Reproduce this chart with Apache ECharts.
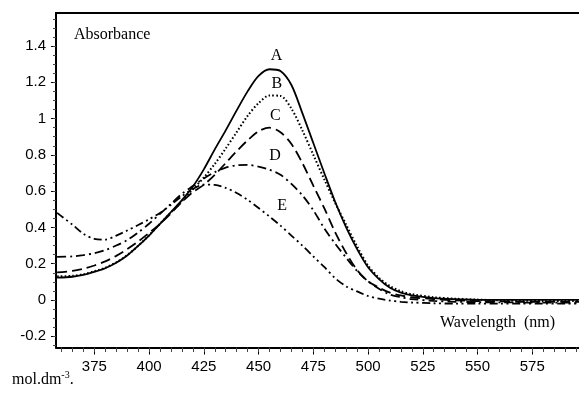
<!DOCTYPE html>
<html>
<head>
<meta charset="utf-8">
<script src="https://cdn.jsdelivr.net/npm/echarts@6/dist/echarts.min.js"></script>
<style>
html,body{margin:0;padding:0;background:#fff;}
#chart{width:579px;height:394px;}
</style>
</head>
<body>
<div id="chart"></div>
<script>
// Wavelength (nm)
const wavelength = [358,365,370,375,380,385,390,395,400,405,410,415,420,425,430,435,440,445,450,455,460,465,470,475,480,485,490,495,500,505,510,515,520,530,540,550,560,570,580,590,597];
// Absorbance series
const seriesA = [0.123,0.128,0.138,0.155,0.175,0.205,0.245,0.298,0.355,0.42,0.485,0.55,0.625,0.72,0.83,0.935,1.045,1.15,1.235,1.272,1.262,1.185,1.03,0.865,0.70,0.54,0.40,0.28,0.18,0.115,0.067,0.04,0.025,0.01,0.004,0.001,0,0,0,0,0];
const seriesB = [0.13,0.133,0.142,0.158,0.178,0.207,0.247,0.298,0.357,0.42,0.483,0.545,0.61,0.675,0.75,0.835,0.925,1.015,1.085,1.127,1.125,1.055,0.935,0.80,0.665,0.535,0.415,0.295,0.19,0.122,0.077,0.048,0.032,0.015,0.007,0.002,-0.002,-0.004,-0.005,-0.005,-0.005];
const seriesC = [0.152,0.16,0.172,0.19,0.213,0.243,0.28,0.322,0.37,0.42,0.478,0.54,0.595,0.635,0.69,0.755,0.82,0.88,0.93,0.95,0.925,0.86,0.755,0.63,0.506,0.373,0.259,0.165,0.103,0.068,0.04,0.025,0.015,0.005,-0.002,-0.006,-0.008,-0.01,-0.01,-0.01,-0.01];
const seriesD = [0.238,0.24,0.247,0.258,0.275,0.3,0.33,0.372,0.42,0.475,0.53,0.585,0.628,0.67,0.705,0.73,0.742,0.745,0.735,0.718,0.69,0.64,0.577,0.495,0.395,0.31,0.233,0.16,0.103,0.062,0.03,0.015,0.005,-0.005,-0.01,-0.012,-0.013,-0.014,-0.015,-0.015,-0.015];
const seriesE = [0.48,0.415,0.365,0.337,0.333,0.355,0.383,0.413,0.445,0.48,0.525,0.572,0.612,0.636,0.634,0.618,0.59,0.552,0.507,0.46,0.41,0.355,0.3,0.24,0.182,0.12,0.075,0.047,0.022,0.007,-0.003,-0.01,-0.014,-0.018,-0.02,-0.02,-0.02,-0.02,-0.02,-0.02,-0.02];
const seriesNames = ['A','B','C','D','E'];
// Curve label anchors (data coordinates: wavelength, absorbance)
const labelWavelength = [458.2,458.4,457.7,457.5,460.8];
const labelAbsorbance = [1.348,1.194,1.017,0.794,0.518];
// Tick labels
const xTicks = [375,400,425,450,475,500,525,550,575];
const yTicks = [-0.2,0,0.2,0.4,0.6,0.8,1,1.2,1.4];

const X_MIN = 357.5, X_MAX = 597.7, Y_MIN = -0.262, Y_MAX = 1.582;
const xMinor = []; for (let v = 360; v <= 595; v += 5) xMinor.push(v);
const yMinor = []; for (let i = -5; i <= 31; i++) yMinor.push(Math.round(i*5)/100);

const allValues = [seriesA, seriesB, seriesC, seriesD, seriesE];
const dashes = ['solid', [1.6,2.2], [10,5], [9,4,2,4], [8,3.5,2,3.5,2,3.5]];
const widths = [1.8, 2, 1.8, 1.8, 1.8];

const ink = '#000';
const tickFont = {color: ink, fontFamily: '"Liberation Sans", Arial, sans-serif', fontSize: 15};

const chart = echarts.init(document.getElementById('chart'), null, {renderer: 'canvas'});
chart.setOption({
  backgroundColor: '#fff',
  animation: false,
  grid: {left: 56, top: 13, right: -3, bottom: 46.5, show: false, outerBoundsMode: 'none', containLabel: false},
  xAxis: [
    {type: 'value', min: X_MIN, max: X_MAX, position: 'bottom',
     axisLine: {show: true, onZero: false, lineStyle: {color: ink, width: 2}},
     axisTick: {show: true, customValues: xTicks, length: 7, lineStyle: {color: ink, width: 1}},
     axisLabel: {show: true, customValues: xTicks, margin: 12, ...tickFont},
     splitLine: {show: false}},
    {type: 'value', min: X_MIN, max: X_MAX, position: 'bottom',
     axisLine: {show: false, onZero: false},
     axisTick: {show: true, customValues: xMinor, length: 4.5, lineStyle: {color: '#444', width: 1}},
     axisLabel: {show: false}, splitLine: {show: false}},
    {type: 'value', min: X_MIN, max: X_MAX, position: 'top',
     axisLine: {show: true, onZero: false, lineStyle: {color: ink, width: 2}},
     axisTick: {show: false}, axisLabel: {show: false}, splitLine: {show: false}}
  ],
  yAxis: [
    {type: 'value', min: Y_MIN, max: Y_MAX, position: 'left',
     axisLine: {show: true, onZero: false, lineStyle: {color: ink, width: 2}},
     axisTick: {show: true, customValues: yTicks, length: 5, lineStyle: {color: ink, width: 1}},
     axisLabel: {show: true, customValues: yTicks, margin: 10, formatter: v => String(v), ...tickFont},
     splitLine: {show: false}},
    {type: 'value', min: Y_MIN, max: Y_MAX, position: 'left',
     axisLine: {show: false, onZero: false},
     axisTick: {show: true, customValues: yMinor, length: 3, lineStyle: {color: '#444', width: 1}},
     axisLabel: {show: false}, splitLine: {show: false}}
  ],
  series: allValues.map((vals, i) => ({
    type: 'line',
    name: seriesNames[i],
    xAxisIndex: 0, yAxisIndex: 0,
    data: wavelength.map((w, j) => [w, vals[j]]),
    smooth: 0.3,
    showSymbol: false,
    symbol: 'none',
    lineStyle: {color: ink, width: widths[i], type: dashes[i]},
    markPoint: {
      symbol: 'circle', symbolSize: 0,
      data: [{coord: [labelWavelength[i], labelAbsorbance[i]], value: seriesNames[i]}],
      label: {show: true, position: 'inside', formatter: seriesNames[i], color: ink,
              fontFamily: '"Liberation Serif", "Times New Roman", serif', fontSize: 16}
    }
  })),
  graphic: [
    {type: 'text', left: 74, top: 27, style: {text: 'Absorbance', fill: ink, font: '16px "Liberation Serif", "Times New Roman", serif'}},
    {type: 'text', left: 440, top: 315, style: {text: 'Wavelength  (nm)', fill: ink, font: '16px "Liberation Serif", "Times New Roman", serif'}},
    {type: 'text', left: 12, top: 370, style: {
      text: '{a|mol.dm}{s|-3}{a|.}', rich: {
        a: {fontSize: 16, fontFamily: '"Liberation Serif", "Times New Roman", serif', fill: ink, color: ink, verticalAlign: 'bottom', lineHeight: 18},
        s: {fontSize: 10, fontFamily: '"Liberation Serif", "Times New Roman", serif', fill: ink, color: ink, verticalAlign: 'top', lineHeight: 18}
      }}}
  ]
});
</script>
</body>
</html>
